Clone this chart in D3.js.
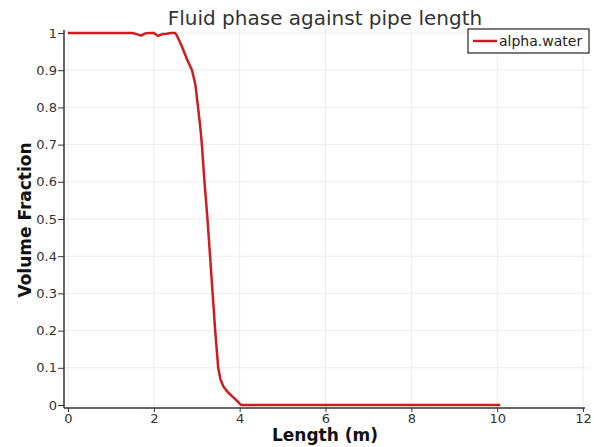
<!DOCTYPE html>
<html>
<head>
<meta charset="utf-8">
<script src="https://d3js.org/d3.v7.min.js"></script>
<style>
  body { margin: 0; background: #fff; }
  text { font-family: "DejaVu Sans", sans-serif; }
</style>
</head>
<body>
<script>
// alpha.water along the pipe
var lengths   = [0, 0.5, 1.0, 1.5, 1.6, 1.7, 1.8, 1.9, 2.0, 2.1, 2.2, 2.3, 2.4, 2.5, 2.55, 2.65, 2.77, 2.89, 2.97, 3.03, 3.08, 3.12, 3.18, 3.25, 3.31, 3.37, 3.43, 3.50, 3.55, 3.62, 3.72, 3.84, 3.95, 4.03, 5, 6, 7, 8, 9, 10.07];
var fractions = [1, 1, 1, 1, 0.997, 0.993, 0.999, 1.0, 1.0, 0.992, 0.997, 0.998, 1.0, 1.0, 0.99, 0.965, 0.93, 0.9, 0.86, 0.80, 0.75, 0.70, 0.60, 0.50, 0.40, 0.30, 0.20, 0.10, 0.07, 0.05, 0.035, 0.022, 0.01, 0, 0, 0, 0, 0, 0, 0];
var xTicks = [0, 2, 4, 6, 8, 10, 12];
var yTicks = [0, 0.1, 0.2, 0.3, 0.4, 0.5, 0.6, 0.7, 0.8, 0.9, 1];

var width = 594, height = 447;
var svg = d3.select("body").append("svg")
            .attr("width", width)
            .attr("height", height);

var x = d3.scaleLinear().domain([0, 12]).range([68, 583]);
var y = d3.scaleLinear().domain([0, 1]).range([405, 33]);

// grid
svg.append("g").selectAll("line").data(xTicks).enter().append("line")
   .attr("x1", d => x(d)).attr("x2", d => x(d))
   .attr("y1", 28).attr("y2", 408)
   .attr("stroke", "#ececec").attr("stroke-width", 1);
svg.append("g").selectAll("line").data(yTicks).enter().append("line")
   .attr("x1", 64).attr("x2", 590)
   .attr("y1", d => y(d)).attr("y2", d => y(d))
   .attr("stroke", "#ececec").attr("stroke-width", 1);

// axes
var xAxis = svg.append("g").attr("transform", "translate(0,408)")
   .call(d3.axisBottom(x).tickValues(xTicks).tickSize(4).tickPadding(2).tickFormat(d3.format("d")));
xAxis.select(".domain").attr("d", "M64,0H585").attr("stroke", "#333").attr("stroke-width", 1.5);
var yAxis = svg.append("g").attr("transform", "translate(64,0)")
   .call(d3.axisLeft(y).tickValues(yTicks).tickSize(6).tickPadding(1).tickFormat(d => d === 0 || d === 1 ? d3.format("d")(d) : d3.format(".1f")(d)));
yAxis.select(".domain").attr("d", "M0,30V408").attr("stroke", "#333").attr("stroke-width", 1.5);
svg.selectAll(".tick text").attr("font-size", 13).attr("fill", "#333")
   .style("font-family", "'DejaVu Sans', sans-serif");
svg.selectAll(".tick line").attr("stroke", "#333");

// curve
var line = d3.line().x((d, i) => x(lengths[i])).y(d => y(d));
svg.append("path").datum(fractions)
   .attr("d", line)
   .attr("fill", "none")
   .attr("stroke", "#d01c1f")
   .attr("stroke-width", 2.5)
   .attr("stroke-linejoin", "round");

// title + labels
svg.append("text").attr("x", 325).attr("y", 25).attr("text-anchor", "middle")
   .attr("font-size", 20).attr("fill", "#333").text("Fluid phase against pipe length");
svg.append("text").attr("x", 325).attr("y", 441).attr("text-anchor", "middle")
   .attr("font-size", 17).attr("font-weight", "bold").attr("fill", "#111").text("Length (m)");
svg.append("text").attr("transform", "translate(31,220) rotate(-90)").attr("text-anchor", "middle")
   .attr("font-size", 17).attr("font-weight", "bold").attr("fill", "#111").text("Volume Fraction");

// legend
var lg = svg.append("g");
lg.append("rect").attr("x", 468).attr("y", 29).attr("width", 121).attr("height", 24)
  .attr("fill", "#fff").attr("stroke", "#222").attr("stroke-width", 1.2);
lg.append("line").attr("x1", 473).attr("x2", 497).attr("y1", 41).attr("y2", 41)
  .attr("stroke", "#c0202a").attr("stroke-width", 2.5);
lg.append("text").attr("x", 499).attr("y", 46).attr("font-size", 14).attr("fill", "#222").text("alpha.water");
</script>
</body>
</html>
